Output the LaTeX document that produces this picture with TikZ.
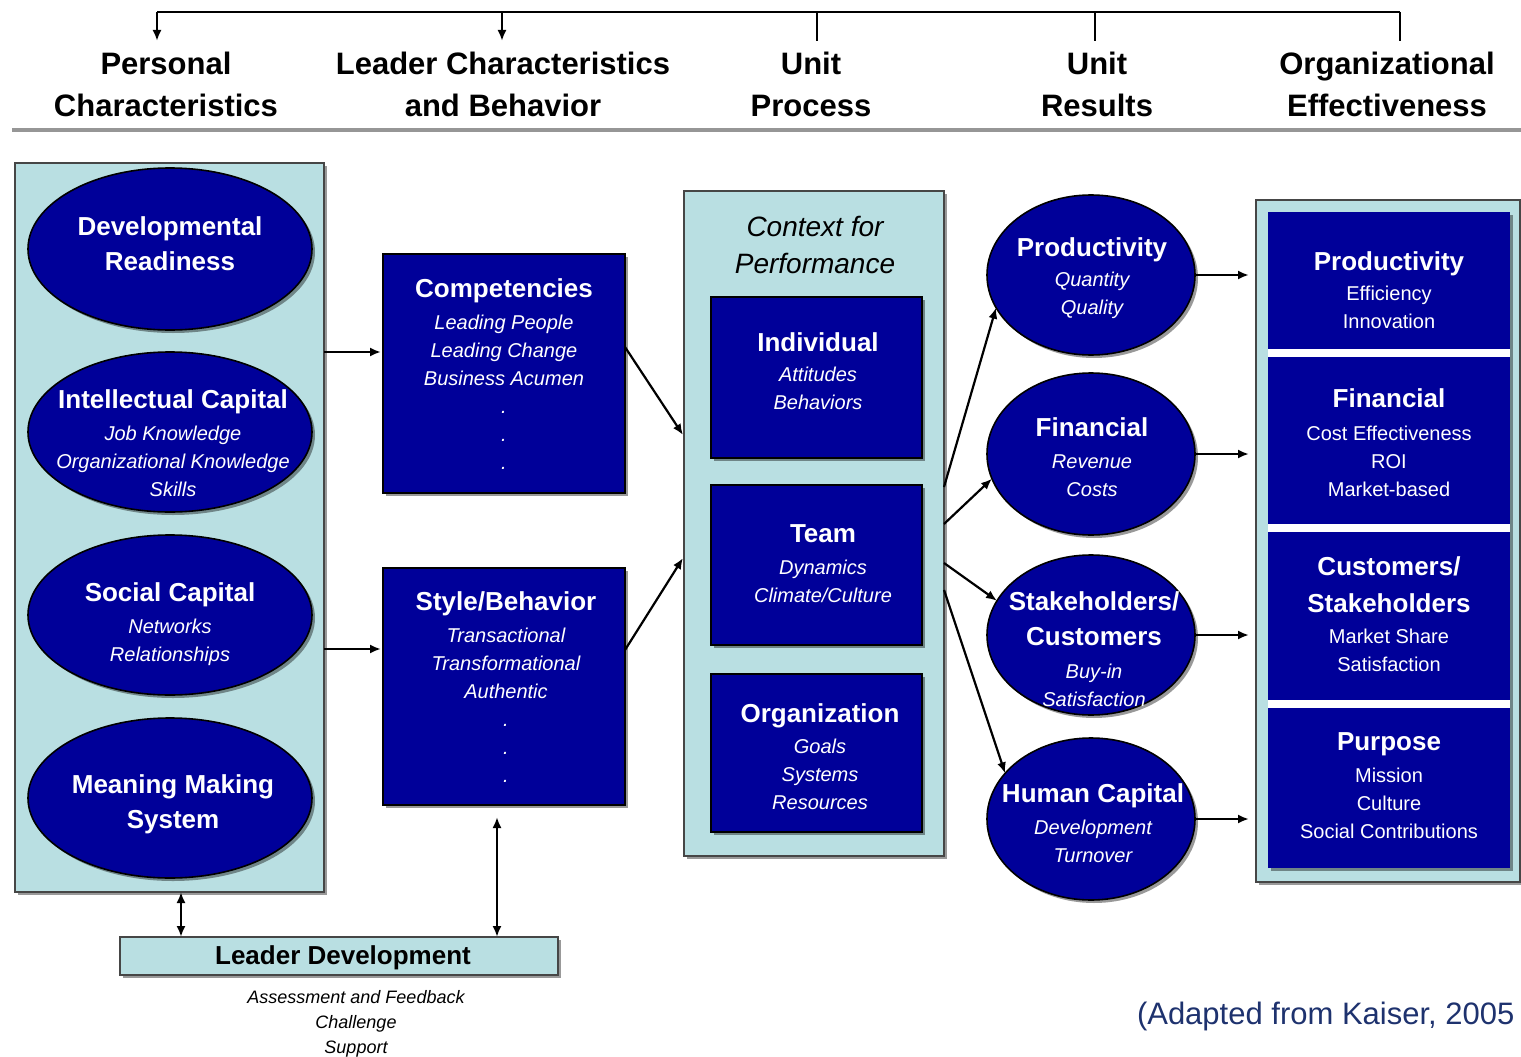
\documentclass[tikz,border=0pt]{standalone}
\usepackage{fontspec}
\setmainfont{Liberation Sans}
\usetikzlibrary{shapes.geometric,arrows.meta,shadows,calc}

\definecolor{navy}{RGB}{0,0,153}
\definecolor{paleblue}{RGB}{185,223,226}
\definecolor{rim}{RGB}{70,70,70}
\definecolor{notecol}{RGB}{30,50,110}
\definecolor{rulegray}{RGB}{150,150,150}

\newcommand{\kHead}{\fontsize{31}{42}\selectfont\bfseries}
\newcommand{\kSub}{\fontsize{20}{28}\selectfont}
\newcommand{\kTitle}[1]{{\fontsize{26}{28}\selectfont\bfseries\upshape #1}}

\begin{document}
\begin{tikzpicture}[x=1pt,y=-1pt,
  every node/.style={inner sep=0pt,outer sep=0pt},
  boxshadow/.style={drop shadow={shadow xshift=3pt,shadow yshift=-3pt,opacity=0.4,fill=black}},
  header/.style={anchor=north,align=center,font=\kHead},
  oval/.style={ellipse,draw=black,line width=1.6pt,fill=navy,boxshadow},
  navybox/.style={rectangle,draw=black,line width=1.6pt,fill=navy,boxshadow},
  panelbox/.style={rectangle,draw=rim,line width=1.8pt,fill=paleblue,boxshadow},
  intext/.style={anchor=north,align=center,text=white,font=\kSub\itshape},
  efftext/.style={anchor=north,align=center,text=white,font=\kSub},
  arr/.style={-{Latex[length=11pt,width=9pt]},line width=2.2pt},
  darr/.style={{Latex[length=11pt,width=9pt]}-{Latex[length=11pt,width=9pt]},line width=2.2pt},
  bar/.style={line width=2pt},
]
\useasboundingbox (0,0) rectangle (1521,1057);

% column headers
\node[header] (hpers) at (166,52) {Personal\\Characteristics};
\node[header] (hlead) at (503,52) {Leader Characteristics\\and Behavior};
\node[header] (hproc) at (811,52) {Unit\\Process};
\node[header] (hres)  at (1097,52) {Unit\\Results};
\node[header] (horg)  at (1387,52) {Organizational\\Effectiveness};

% bracket over the headers
\coordinate (t1) at (157,12); \coordinate (t2) at (502,12); \coordinate (t3) at (817,12);
\coordinate (t4) at (1095,12); \coordinate (t5) at (1400,12);
\draw[bar] (t1) -- (t5);
\draw[arr] (t1) -- ++(0,29);
\draw[arr] (t2) -- ++(0,29);
\draw[bar] (t3) -- ++(0,29);
\draw[bar] (t4) -- ++(0,29);
\draw[bar] (t5) -- ++(0,29);
\draw[rulegray,line width=4pt] (12,130) -- (1521,130);

% personal characteristics
\node[panelbox,minimum width=309pt,minimum height=729pt] (lp) at (169.5,527.5) {};
\node[oval,minimum width=284pt,minimum height=162pt] (devr) at (170,249) {};
\node[intext] (devr-t) at (170,217) {\kTitle{Developmental}\\[7pt]\kTitle{Readiness}};
\node[oval,minimum width=284pt,minimum height=160pt] (intc) at (170,432) {};
\node[intext] (intc-t) at (173,390) {\kTitle{Intellectual Capital}\\[4pt]Job Knowledge\\Organizational Knowledge\\Skills};
\node[oval,minimum width=284pt,minimum height=160pt] (soc) at (170,615) {};
\node[intext] (soc-t) at (170,583) {\kTitle{Social Capital}\\[4pt]Networks\\Relationships};
\node[oval,minimum width=284pt,minimum height=160pt] (mean) at (170,798) {};
\node[intext] (mean-t) at (173,775) {\kTitle{Meaning Making}\\[7pt]\kTitle{System}};

% leader characteristics and behavior
\node[navybox,minimum width=242pt,minimum height=239pt] (comp) at (504,373.5) {};
\node[intext] (comp-t) at (504,279) {\kTitle{Competencies}\\[4pt]Leading People\\Leading Change\\Business Acumen\\.\\.\\.};
\node[navybox,minimum width=242pt,minimum height=237pt] (style) at (504,686.5) {};
\node[intext] (style-t) at (506,592) {\kTitle{Style/Behavior}\\[4pt]Transactional\\Transformational\\Authentic\\.\\.\\.};

% unit process
\node[panelbox,minimum width=260pt,minimum height=665pt] (ctx) at (814,523.5) {};
\node[anchor=north,align=center,font=\fontsize{28}{37}\selectfont\itshape] (ctx-t) at (815,216) {Context for\\Performance};
\node[navybox,minimum width=211pt,minimum height=161pt] (indiv) at (816.5,377.5) {};
\node[intext] (indiv-t) at (818,333) {\kTitle{Individual}\\[2pt]Attitudes\\Behaviors};
\node[navybox,minimum width=211pt,minimum height=160pt] (team) at (816.5,565) {};
\node[intext] (team-t) at (823,525) {\kTitle{Team}\\[4pt]Dynamics\\Climate/Culture};
\node[navybox,minimum width=211pt,minimum height=158pt] (org) at (816.5,753) {};
\node[intext] (org-t) at (820,704) {\kTitle{Organization}\\[3pt]Goals\\Systems\\Resources};

% unit results
\node[oval,minimum width=208pt,minimum height=160pt] (prod) at (1091,275) {};
\node[intext] (prod-t) at (1092,238) {\kTitle{Productivity}\\[2pt]Quantity\\Quality};
\node[oval,minimum width=208pt,minimum height=162pt] (fin) at (1091,454) {};
\node[intext] (fin-t) at (1092,418) {\kTitle{Financial}\\[4pt]Revenue\\Costs};
\node[oval,minimum width=208pt,minimum height=160pt] (stake) at (1091,635) {};
\node[intext] (stake-t) at (1094,592) {\kTitle{Stakeholders/}\\[7pt]\kTitle{Customers}\\[5pt]Buy-in\\Satisfaction};
\node[oval,minimum width=208pt,minimum height=162pt] (hc) at (1091,819) {};
\node[intext] (hc-t) at (1093,784) {\kTitle{Human Capital}\\[4pt]Development\\Turnover};

% organizational effectiveness
\node[panelbox,minimum width=264pt,minimum height=682pt] (rp) at (1388,541) {};
\node[rectangle,fill=navy,boxshadow,minimum width=242pt,minimum height=656pt] (effcol) at (1389,540) {};
\draw[white,line width=8pt] (effcol.west |- 0,353) -- (effcol.east |- 0,353);
\draw[white,line width=8pt] (effcol.west |- 0,528) -- (effcol.east |- 0,528);
\draw[white,line width=8pt] (effcol.west |- 0,704) -- (effcol.east |- 0,704);
\node[efftext] (eprod-t) at (1389,252) {\kTitle{Productivity}\\[2pt]Efficiency\\Innovation};
\node[efftext] (efin-t) at (1389,389) {\kTitle{Financial}\\[5pt]Cost Effectiveness\\ROI\\Market-based};
\node[efftext] (ecust-t) at (1389,557) {\kTitle{Customers/}\\[9pt]\kTitle{Stakeholders}\\[3pt]Market Share\\Satisfaction};
\node[efftext] (epurp-t) at (1389,733) {\kTitle{Purpose}\\[4pt]Mission\\Culture\\Social Contributions};

% leader development
\node[panelbox,minimum width=438pt,minimum height=38pt] (ld) at (339,956) {};
\node[anchor=north,font=\fontsize{26}{28}\selectfont\bfseries] (ld-t) at (343,946) {Leader Development};
\node[anchor=north,align=center,font=\fontsize{18}{25}\selectfont\itshape] (ld-n) at (356,990) {Assessment and Feedback\\Challenge\\Support};

% source note
\node[anchor=north west,text=notecol,font=\fontsize{31}{34}\selectfont] (src) at (1137,1002) {(Adapted from Kaiser, 2005};

% connectors
\coordinate (l1) at (lp.east |- 0,352);
\coordinate (l2) at (lp.east |- 0,649);
\draw[arr,shorten >=2pt] (l1) -- (l1 -| comp.west);
\draw[arr,shorten >=2pt] (l2) -- (l2 -| style.west);
\draw[arr] ($(comp.north east)+(0,93)$) -- ($(ctx.north west)+(-1,244)$);
\draw[arr] ($(style.north east)+(0,82)$) -- ($(ctx.north west)+(-1,367)$);
\draw[arr] ($(ctx.north east)+(0,296)$) -- (prod.199);
\draw[arr] ($(ctx.north east)+(0,333)$) -- (fin.194);
\draw[arr] ($(ctx.north east)+(0,372)$) -- (stake.160);
\draw[arr] ($(ctx.north east)+(0,399)$) -- (hc.152);
\draw[arr,shorten >=7pt] (prod.east) -- (prod.east -| rp.west);
\draw[arr,shorten >=7pt] (fin.east) -- (fin.east -| rp.west);
\draw[arr,shorten >=7pt] (stake.east) -- (stake.east -| rp.west);
\draw[arr,shorten >=7pt] (hc.east) -- (hc.east -| rp.west);
\coordinate (d1) at (181,0);
\coordinate (d2) at (497,0);
\draw[darr] (lp.south -| d1) -- (ld.north -| d1);
\draw[darr,shorten <=12pt] (style.south -| d2) -- (ld.north -| d2);
\end{tikzpicture}
\end{document}
